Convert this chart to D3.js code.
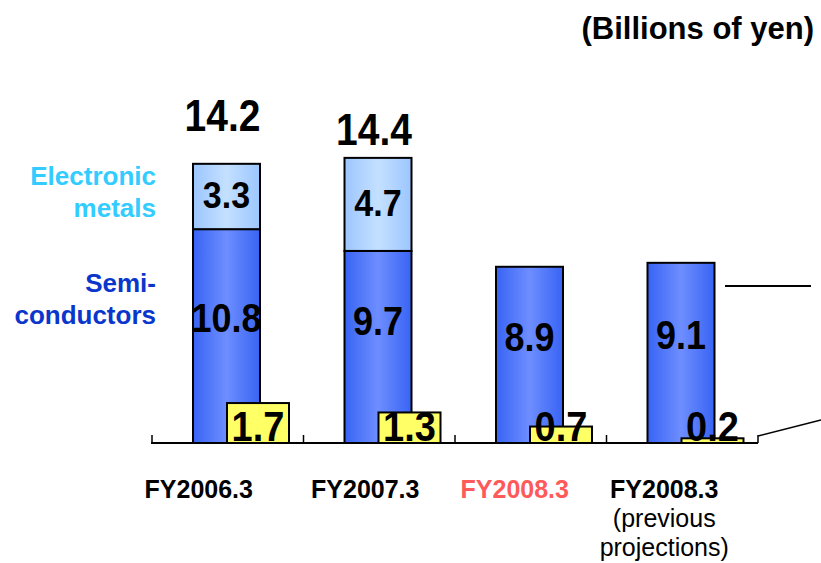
<!DOCTYPE html>
<html>
<head>
<meta charset="utf-8">
<script src="https://cdn.jsdelivr.net/npm/d3@7"></script>
<style>
  body { margin: 0; background: #fff; }
  svg { font-family: "Liberation Sans", Arial, sans-serif; }
</style>
</head>
<body>
<svg id="canvas"></svg>
<script>
// data
const categories = ['FY2006.3', 'FY2007.3', 'FY2008.3', 'FY2008.3 prev']
const catLabels = [['FY2006.3'], ['FY2007.3'], ['FY2008.3'], ['FY2008.3', '(previous', 'projections)']]
const semiconductors = [10.8, 9.7, 8.9, 9.1]
const electronicMetals = [3.3, 4.7, null, null]
const totals = [14.2, 14.4, null, null]
const operatingIncome = [1.7, 1.3, 0.7, 0.2]

const width = 821
const height = 563
const baseY = 443

let canvas = d3.select('#canvas')
canvas.attr('width', width).attr('height', height)

let xScale = d3.scaleBand().domain(categories).range([152, 758])
let yScale = d3.scaleLinear().domain([0, 10]).range([baseY, baseY - 198])
let yScale2 = d3.scaleLinear().domain([0, 1]).range([baseY, baseY - 23.5])

let defs = canvas.append('defs')
let addGrad = (id, edge, mid) => {
    let g = defs.append('linearGradient').attr('id', id)
        .attr('x1', '0%').attr('x2', '100%').attr('y1', '0%').attr('y2', '0%')
    g.append('stop').attr('offset', '0%').attr('stop-color', edge)
    g.append('stop').attr('offset', '50%').attr('stop-color', mid)
    g.append('stop').attr('offset', '100%').attr('stop-color', edge)
}
addGrad('gSemi', '#3864f4', '#6e8eff')
addGrad('gElec', '#9cc6ff', '#c4e0ff')

const blueOff = 41, blueW = 67
const yelOff = 75, yelW = 62
// hand nudges of the labels as placed on the slide
const totalNudge = [-31, -13]
const semiNudge = [-4, -12, -4, -4]

// numbers are drawn a bit taller than wide, like the original slide
let numText = (sel, fs) => sel
    .attr('text-anchor', 'middle')
    .attr('font-weight', 'bold').attr('font-size', fs)

// semiconductor bars
canvas.selectAll('rect.semi')
    .data(categories)
    .enter()
    .append('rect')
    .attr('class', 'semi')
    .attr('x', (d) => xScale(d) + blueOff)
    .attr('width', blueW)
    .attr('y', (d, i) => yScale(semiconductors[i]))
    .attr('height', (d, i) => baseY - yScale(semiconductors[i]))
    .attr('fill', 'url(#gSemi)')
    .attr('stroke', '#000')
    .attr('stroke-width', 2)

// electronic metals on top
canvas.selectAll('rect.elec')
    .data(categories.filter((d, i) => electronicMetals[i] != null))
    .enter()
    .append('rect')
    .attr('class', 'elec')
    .attr('x', (d) => xScale(d) + blueOff)
    .attr('width', blueW)
    .attr('y', (d, i) => yScale(semiconductors[i] + electronicMetals[i]))
    .attr('height', (d, i) => yScale(semiconductors[i]) - yScale(semiconductors[i] + electronicMetals[i]))
    .attr('fill', 'url(#gElec)')
    .attr('stroke', '#000')
    .attr('stroke-width', 2)

// yellow bars
canvas.selectAll('rect.yel')
    .data(categories)
    .enter()
    .append('rect')
    .attr('class', 'yel')
    .attr('x', (d) => xScale(d) + yelOff)
    .attr('width', yelW)
    .attr('y', (d, i) => yScale2(operatingIncome[i]))
    .attr('height', (d, i) => baseY - yScale2(operatingIncome[i]))
    .attr('fill', '#ffff66')
    .attr('stroke', '#000')
    .attr('stroke-width', 2)

// axis
canvas.append('line')
    .attr('x1', xScale.range()[0] - 1).attr('x2', xScale.range()[1])
    .attr('y1', baseY).attr('y2', baseY)
    .attr('stroke', '#000').attr('stroke-width', 2)
let tickXs = categories.map((d) => xScale(d)).concat([xScale.range()[1]])
canvas.selectAll('line.tick')
    .data(tickXs)
    .enter()
    .append('line')
    .attr('x1', (d) => d).attr('x2', (d) => d)
    .attr('y1', baseY - 8).attr('y2', baseY)
    .attr('stroke', '#000').attr('stroke-width', 1.5)

// value labels
canvas.selectAll('text.semi')
    .data(categories)
    .enter()
    .append('text')
    .call(numText, 36)
    .attr('transform', (d, i) => `translate(${xScale(d) + blueOff + blueW / 2},${yScale(semiconductors[i] / 2) + semiNudge[i]}) scale(1,1.12)`)
    .text((d, i) => semiconductors[i].toFixed(1))

canvas.selectAll('text.elec')
    .data(categories.filter((d, i) => electronicMetals[i] != null))
    .enter()
    .append('text')
    .call(numText, 34)
    .attr('transform', (d, i) => `translate(${xScale(d) + blueOff + blueW / 2},${yScale(semiconductors[i] + electronicMetals[i] / 2) + 12}) scale(1,1.08)`)
    .text((d, i) => electronicMetals[i].toFixed(1))

canvas.selectAll('text.total')
    .data(categories.filter((d, i) => totals[i] != null))
    .enter()
    .append('text')
    .call(numText, 39)
    .attr('transform', (d, i) => `translate(${xScale(d) + blueOff + blueW / 2 - 4},${yScale(totals[i]) + totalNudge[i]}) scale(1,1.12)`)
    .text((d, i) => totals[i].toFixed(1))

canvas.selectAll('text.yel')
    .data(categories)
    .enter()
    .append('text')
    .call(numText, 38)
    .attr('transform', (d, i) => `translate(${xScale(d) + yelOff + yelW / 2},${baseY - 2}) scale(1,1.12)`)
    .text((d, i) => operatingIncome[i].toFixed(1))

// category labels
let catColors = ['#000', '#000', '#ff5a5a', '#000']
let catShift = [-29, -14, -16, -18]
let catG = canvas.selectAll('g.cat')
    .data(categories)
    .enter()
    .append('g')
    .attr('class', 'cat')
catG.each(function (d, i) {
    let g = d3.select(this)
    catLabels[i].forEach((line, j) => {
        g.append('text')
            .attr('x', xScale(d) + xScale.bandwidth() / 2 + catShift[i])
            .attr('y', 498 + j * 29)
            .attr('text-anchor', 'middle')
            .attr('font-size', 25)
            .attr('font-weight', j === 0 ? 'bold' : 'normal')
            .attr('fill', catColors[i])
            .text(line)
    })
})

// series labels
let seriesLabels = [
    { lines: ['Electronic', 'metals'], color: '#33ccff', y: 185 },
    { lines: ['Semi-', 'conductors'], color: '#0a36cc', y: 292 }
]
seriesLabels.forEach((s) => {
    s.lines.forEach((line, j) => {
        canvas.append('text')
            .attr('x', 156)
            .attr('y', s.y + j * 32)
            .attr('text-anchor', 'end')
            .attr('font-weight', 'bold').attr('font-size', 26)
            .attr('fill', s.color)
            .text(line)
    })
})

// unit
canvas.append('text')
    .attr('x', 814).attr('y', 39)
    .attr('text-anchor', 'end')
    .attr('font-weight', 'bold').attr('font-size', 31)
    .text('(Billions of yen)')

// right-hand connector lines
canvas.append('line')
    .attr('x1', 725).attr('x2', 811).attr('y1', 286).attr('y2', 286)
    .attr('stroke', '#000').attr('stroke-width', 2)
canvas.append('line')
    .attr('x1', 758).attr('x2', 821).attr('y1', 436).attr('y2', 420)
    .attr('stroke', '#000').attr('stroke-width', 1.5)
</script>
</body>
</html>
